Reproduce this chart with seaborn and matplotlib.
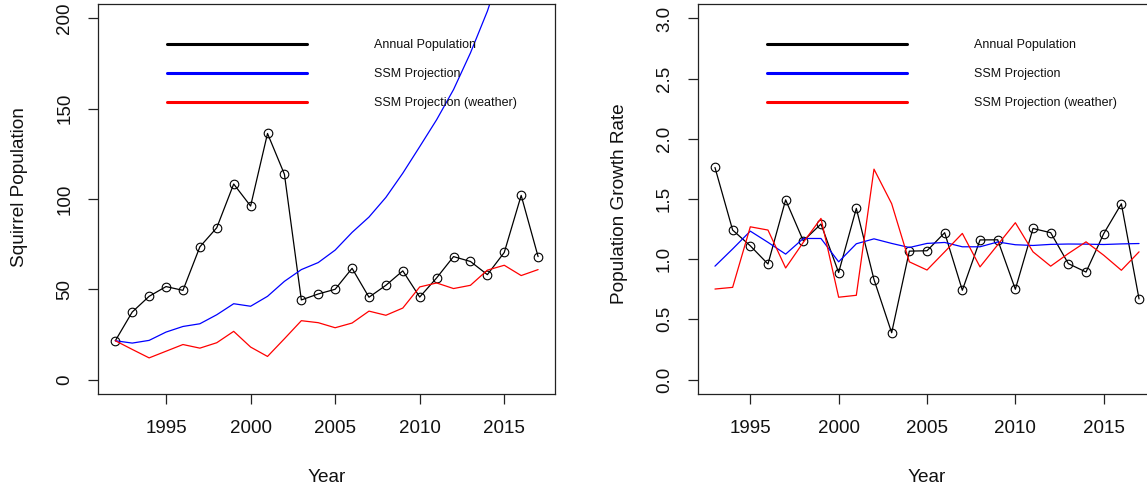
import matplotlib
matplotlib.use("Agg")
import matplotlib.pyplot as plt
from matplotlib.lines import Line2D
import seaborn as sns

# ---------------- data ----------------
years_pop = list(range(1992, 2018))
annual_pop = [21.5, 37.4, 46.1, 51.5, 49.4, 73.5, 84.1, 108.3, 96.1, 136.3,
              113.7, 44.1, 47.4, 50.0, 61.6, 45.6, 52.2, 60.2, 45.7, 56.3,
              68.1, 65.4, 58.1, 70.4, 102.0, 68.1]
ssm_pop = [21.5, 20.2, 21.7, 26.3, 29.4, 30.9, 35.9, 42.0, 40.6, 46.1,
           54.4, 60.9, 64.8, 71.7, 81.5, 90.0, 100.9, 114.3, 129.0, 143.9,
           160.6, 180.9, 204.0, 232.0, 262.0, 296.0]
weather_pop = [21.5, 16.7, 12.0, 15.7, 19.4, 17.4, 20.4, 26.7, 18.0, 12.8,
               22.6, 32.6, 31.5, 28.7, 31.3, 37.9, 35.6, 39.6, 51.3, 53.5,
               50.4, 52.2, 60.6, 63.3, 57.6, 60.9]

years_rate = list(range(1993, 2018))
growth_rate = [1.762, 1.242, 1.111, 0.960, 1.493, 1.152, 1.292, 0.889, 1.422,
               0.831, 0.389, 1.067, 1.070, 1.220, 0.742, 1.160, 1.161, 0.750,
               1.255, 1.220, 0.963, 0.893, 1.212, 1.460, 0.670]
ssm_rate = [0.942, 1.085, 1.233, 1.140, 1.042, 1.172, 1.172, 0.978, 1.128,
            1.169, 1.131, 1.097, 1.131, 1.139, 1.103, 1.103, 1.143, 1.120,
            1.114, 1.123, 1.126, 1.125, 1.122, 1.127, 1.130]
weather_rate = [0.752, 0.766, 1.269, 1.242, 0.927, 1.140, 1.339, 0.684, 0.700,
                1.748, 1.461, 0.978, 0.910, 1.061, 1.214, 0.936, 1.119, 1.303,
                1.061, 0.942, 1.047, 1.144, 1.033, 0.908, 1.061]

legend_labels = ["Annual Population", "SSM Projection", "SSM Projection (weather)"]
series_colors = ["black", "#0000FF", "#FF0000"]
x_ticks = [1995, 2000, 2005, 2010, 2015]
pop_ticks = [0, 50, 100, 150, 200]
rate_ticks = [0.0, 0.5, 1.0, 1.5, 2.0, 2.5, 3.0]

# ---------------- style ----------------
sns.set_style("ticks")
plt.rcParams["font.family"] = ["Liberation Sans", "DejaVu Sans"]
plt.rcParams["axes.edgecolor"] = "#222222"
plt.rcParams["axes.linewidth"] = 0.9
plt.rcParams["xtick.color"] = "#222222"
plt.rcParams["ytick.color"] = "#222222"

W, H = 1147, 488
fig = plt.figure(figsize=(W / 100, H / 100), dpi=100)
ax1 = fig.add_axes([98.4 / W, 94 / H, 456.6 / W, 390 / H])
ax2 = fig.add_axes([698 / W, 94 / H, 458 / W, 390 / H])

TICK_FS = 13.5
LAB_FS = 13.7


def draw(ax, years, series, ylim, yticks, ylabels, ylabel, ylab_pos):
    main, ssm, wea = series
    sns.lineplot(x=years, y=main, ax=ax, color=series_colors[0], lw=0.9,
                 marker="o", markersize=6.2, markerfacecolor="none",
                 markeredgecolor="black", markeredgewidth=0.8, legend=False)
    sns.lineplot(x=years, y=ssm, ax=ax, color=series_colors[1], lw=0.9, legend=False)
    sns.lineplot(x=years, y=wea, ax=ax, color=series_colors[2], lw=0.9, legend=False)

    lo, hi = ylim
    pad = (hi - lo) * 0.04
    ax.set_ylim(lo - pad, hi + pad)
    xlo, xhi = years[0], years[-1]
    xpad = (xhi - xlo) * 0.04
    ax.set_xlim(xlo - xpad, xhi + xpad)

    ax.set_xticks(x_ticks)
    ax.set_xticklabels([str(t) for t in x_ticks], fontsize=TICK_FS)
    ax.set_yticks(yticks)
    ax.set_yticklabels(ylabels, fontsize=TICK_FS, rotation=90, va="center")
    ax.tick_params(axis="x", direction="out", length=7.5, width=0.9, pad=11,
                   colors="#222222", labelcolor="#111111")
    ax.tick_params(axis="y", direction="out", length=7.5, width=0.9, pad=10.5,
                   colors="#222222", labelcolor="#111111")
    for s in ax.spines.values():
        s.set_visible(True)
        s.set_color("#222222")
        s.set_linewidth(0.9)

    ax.set_xlabel("Year", fontsize=LAB_FS, color="#111111")
    ax.set_ylabel(ylabel, fontsize=LAB_FS, color="#111111")
    ax.xaxis.set_label_coords(0.5, -0.192)
    ax.yaxis.set_label_coords(*ylab_pos)

    handles = [Line2D([], [], color=c, lw=2.2) for c in series_colors]
    ax.legend(handles, legend_labels, loc="upper left",
              bbox_to_anchor=(0.1496, 0.909), frameon=False, fontsize=9,
              handlelength=11.2, handletextpad=5.4, labelspacing=1.36,
              borderpad=0, borderaxespad=0, labelcolor="#111111")


draw(ax1, years_pop, (annual_pop, ssm_pop, weather_pop), (0, 200), pop_ticks,
     [str(t) for t in pop_ticks], "Squirrel Population", (-0.154, 0.5295))
draw(ax2, years_rate, (growth_rate, ssm_rate, weather_rate), (0, 3), rate_ticks,
     [f"{t:.1f}" for t in rate_ticks], "Population Growth Rate", (-0.152, 0.489))

fig.savefig("out.png", dpi=100)
